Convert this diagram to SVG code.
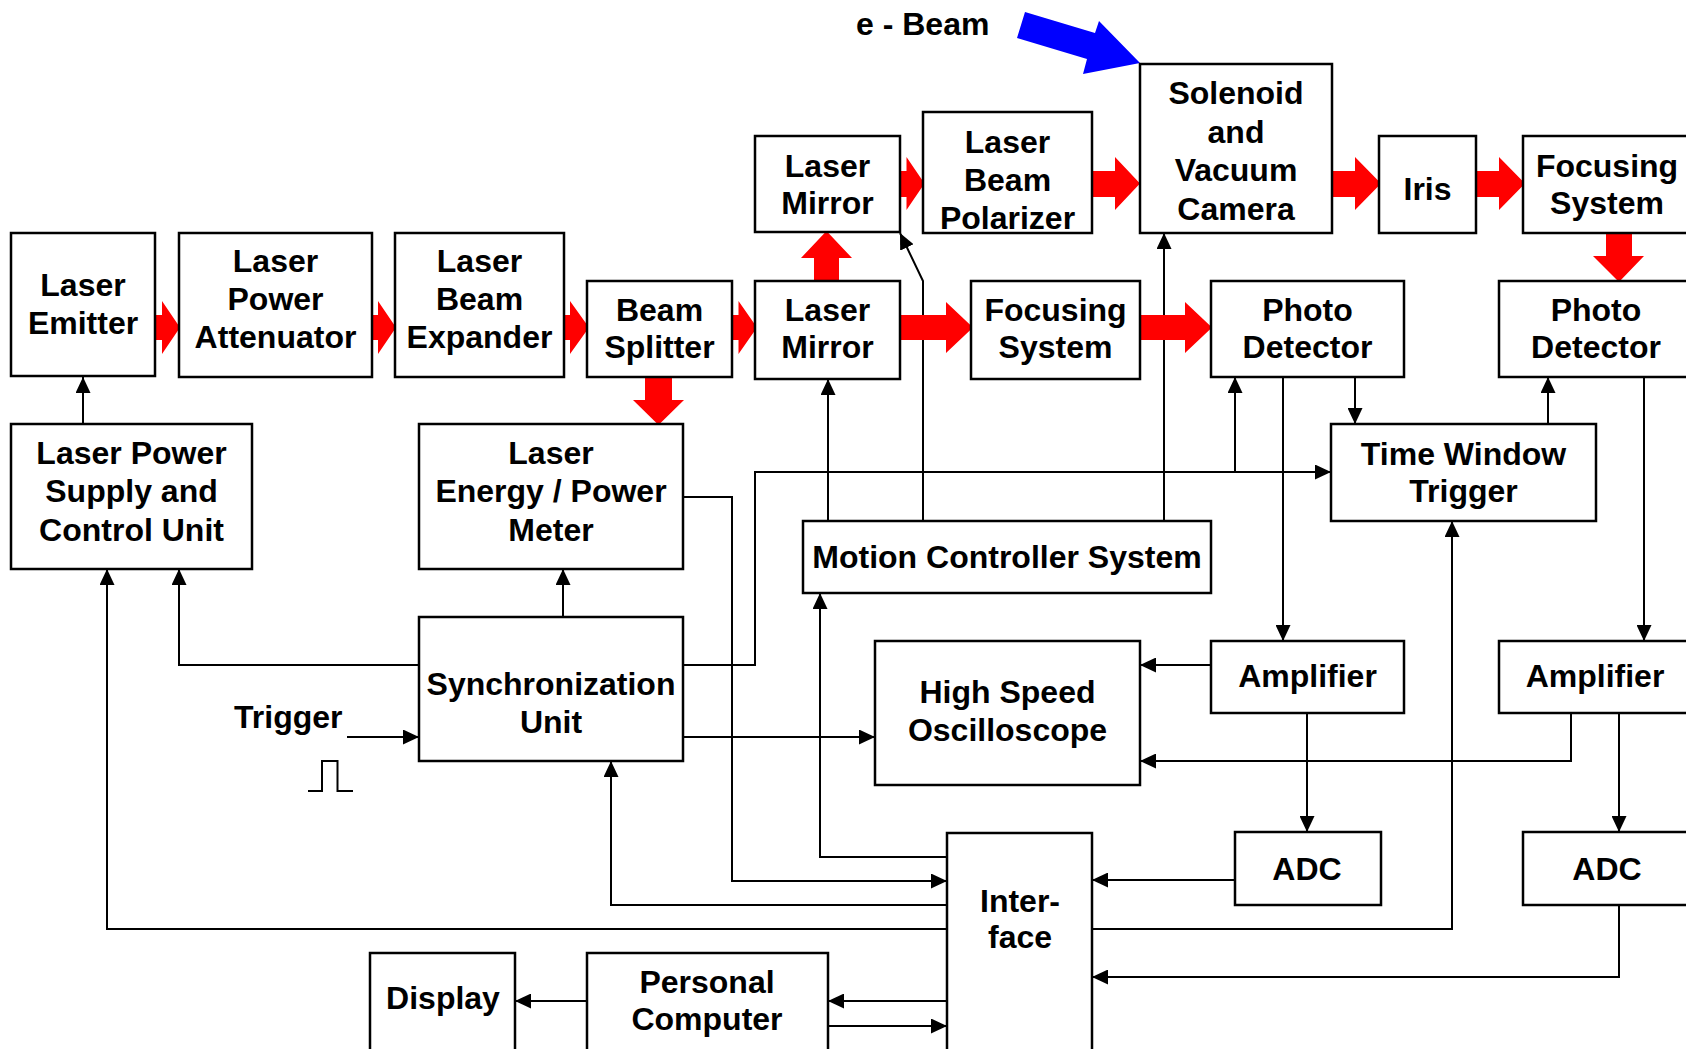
<svg xmlns="http://www.w3.org/2000/svg" width="1686" height="1049" viewBox="0 0 1686 1049">
<style>
.box{fill:#fff;stroke:#000;stroke-width:2.5}
.t{font-family:"Liberation Sans",Arial,sans-serif;font-weight:bold;font-size:32px;fill:#000;text-anchor:middle}
.c{fill:none;stroke:#000;stroke-width:2}
.a{marker-end:url(#ah)}
.r{fill:#ff0000}
</style>
<defs>
<marker id="ah" markerUnits="userSpaceOnUse" markerWidth="16" markerHeight="15" refX="16" refY="7.5" orient="auto">
<path d="M0,0 L16,7.5 L0,15 z" fill="#000"/>
</marker>
</defs>
<rect width="1686" height="1049" fill="#fff"/>

<g id="connectors">
<path class="c a" d="M83,424 L83,377"/>
<path class="c a" d="M419,665 L179,665 L179,569"/>
<path class="c a" d="M947,929 L107,929 L107,569"/>
<path class="c a" d="M563,617 L563,569"/>
<path class="c a" d="M347,737 L419,737"/>
<path class="c a" d="M683,497 L732,497 L732,881 L947,881"/>
<path class="c a" d="M683,665 L755,665 L755,472 L1331,472"/>
<path class="c a" d="M1235,472 L1235,377"/>
<path class="c a" d="M683,737 L875,737"/>
<path class="c a" d="M947,905 L611,905 L611,761"/>
<path class="c a" d="M947,857 L820,857 L820,593"/>
<path class="c a" d="M828,521 L828,379"/>
<path class="c a" d="M923,521 L923,281 L900,233"/>
<path class="c a" d="M1164,521 L1164,233"/>
<path class="c a" d="M1355,377 L1355,424"/>
<path class="c a" d="M1548,424 L1548,377"/>
<path class="c a" d="M1283,377 L1283,641"/>
<path class="c a" d="M1644,377 L1644,641"/>
<path class="c a" d="M1211,665 L1140,665"/>
<path class="c a" d="M1571,713 L1571,761 L1140,761"/>
<path class="c a" d="M1307,713 L1307,832"/>
<path class="c a" d="M1619,713 L1619,832"/>
<path class="c a" d="M1235,880 L1092,880"/>
<path class="c a" d="M1619,905 L1619,977 L1092,977"/>
<path class="c a" d="M1092,929 L1452,929 L1452,521"/>
<path class="c a" d="M587,1001 L515,1001"/>
<path class="c a" d="M947,1001 L828,1001"/>
<path class="c a" d="M828,1026 L947,1026"/>
<path class="c" d="M308,791 L322,791 L322,761 L337.5,761 L337.5,791 L353,791"/>
</g>

<g id="beam-arrows">
<polygon class="r" points="154,315 162,315 162,301 180,327.5 162,354 162,340 154,340"/>
<polygon class="r" points="371,315 378,315 378,301 396,327.5 378,354 378,340 371,340"/>
<polygon class="r" points="563,315 570,315 570,301 589,327.5 570,354 570,340 563,340"/>
<polygon class="r" points="731,315 738.5,315 738.5,301 757,327.5 738.5,354 738.5,340 731,340"/>
<polygon class="r" points="900,315 946,315 946,302 973,327.5 946,353 946,340 900,340"/>
<polygon class="r" points="1139,315 1185,315 1185,302 1212,327.5 1185,353 1185,340 1139,340"/>
<polygon class="r" points="899,171 906.5,171 906.5,157 924.5,183.5 906.5,210 906.5,197 899,197"/>
<polygon class="r" points="1091,171 1115,171 1115,157 1140,183.5 1115,210 1115,197 1091,197"/>
<polygon class="r" points="1331,171 1355,171 1355,157 1381,183.5 1355,210 1355,197 1331,197"/>
<polygon class="r" points="1475,171 1499,171 1499,157 1525,183.5 1499,210 1499,197 1475,197"/>
<polygon class="r" points="814,281 814,258 801,258 826.5,231 852,258 839,258 839,281"/>
<polygon class="r" points="1606,233 1606,256 1593,256 1619,282 1644,256 1632,256 1632,233"/>
<polygon class="r" points="645,376 645,400 633,400 658.5,425 684,400 672,400 672,376"/>
<polygon fill="#0000ff" points="1025,12 1095,33 1099,21 1140,63 1083,74 1087,59 1017,38"/>
<text class="t" x="856" y="35" style="text-anchor:start">e - Beam</text>
</g>

<g id="laser-emitter"><rect class="box" x="11" y="233" width="144" height="143"/><text class="t" x="83" y="296">Laser</text><text class="t" x="83" y="334">Emitter</text></g>
<g id="laser-power-attenuator"><rect class="box" x="179" y="233" width="193" height="144"/><text class="t" x="275.5" y="272">Laser</text><text class="t" x="275.5" y="310">Power</text><text class="t" x="275.5" y="348">Attenuator</text></g>
<g id="laser-beam-expander"><rect class="box" x="395" y="233" width="169" height="144"/><text class="t" x="479.5" y="272">Laser</text><text class="t" x="479.5" y="310">Beam</text><text class="t" x="479.5" y="348">Expander</text></g>
<g id="beam-splitter"><rect class="box" x="587" y="281" width="145" height="96"/><text class="t" x="659.5" y="321">Beam</text><text class="t" x="659.5" y="358">Splitter</text></g>
<g id="laser-mirror-lower"><rect class="box" x="755" y="281" width="145" height="98"/><text class="t" x="827.5" y="321">Laser</text><text class="t" x="827.5" y="358">Mirror</text></g>
<g id="laser-mirror-upper"><rect class="box" x="755" y="136" width="145" height="96"/><text class="t" x="827.5" y="177">Laser</text><text class="t" x="827.5" y="214">Mirror</text></g>
<g id="laser-beam-polarizer"><rect class="box" x="923" y="112" width="169" height="121"/><text class="t" x="1007.5" y="153">Laser</text><text class="t" x="1007.5" y="191">Beam</text><text class="t" x="1007.5" y="229">Polarizer</text></g>
<g id="solenoid-camera"><rect class="box" x="1140" y="64" width="192" height="169"/><text class="t" x="1236" y="104">Solenoid</text><text class="t" x="1236" y="142.5">and</text><text class="t" x="1236" y="181">Vacuum</text><text class="t" x="1236" y="219.5">Camera</text></g>
<g id="iris"><rect class="box" x="1379" y="136" width="97" height="97"/><text class="t" x="1427.5" y="200">Iris</text></g>
<g id="focusing-system-2"><rect class="box" x="1523" y="136" width="169" height="97"/><text class="t" x="1607" y="177">Focusing</text><text class="t" x="1607" y="214">System</text></g>
<g id="focusing-system-1"><rect class="box" x="971" y="281" width="169" height="98"/><text class="t" x="1055.5" y="321">Focusing</text><text class="t" x="1055.5" y="358">System</text></g>
<g id="photo-detector-1"><rect class="box" x="1211" y="281" width="193" height="96"/><text class="t" x="1307.5" y="321">Photo</text><text class="t" x="1307.5" y="358">Detector</text></g>
<g id="photo-detector-2"><rect class="box" x="1499" y="281" width="193" height="96"/><text class="t" x="1596" y="321">Photo</text><text class="t" x="1596" y="358">Detector</text></g>
<g id="laser-power-supply"><rect class="box" x="11" y="424" width="241" height="145"/><text class="t" x="131.5" y="464">Laser Power</text><text class="t" x="131.5" y="502">Supply and</text><text class="t" x="131.5" y="541">Control Unit</text></g>
<g id="energy-meter"><rect class="box" x="419" y="424" width="264" height="145"/><text class="t" x="551" y="464">Laser</text><text class="t" x="551" y="502">Energy / Power</text><text class="t" x="551" y="541">Meter</text></g>
<g id="time-window-trigger"><rect class="box" x="1331" y="424" width="265" height="97"/><text class="t" x="1463.5" y="465">Time Window</text><text class="t" x="1463.5" y="502">Trigger</text></g>
<g id="motion-controller"><rect class="box" x="803" y="521" width="408" height="72"/><text class="t" x="1007" y="568">Motion Controller System</text></g>
<g id="synchronization-unit"><rect class="box" x="419" y="617" width="264" height="144"/><text class="t" x="551" y="695">Synchronization</text><text class="t" x="551" y="733">Unit</text></g>
<g id="trigger"><text class="t" x="234" y="728" style="text-anchor:start">Trigger</text></g>
<g id="oscilloscope"><rect class="box" x="875" y="641" width="265" height="144"/><text class="t" x="1007.5" y="703">High Speed</text><text class="t" x="1007.5" y="741">Oscilloscope</text></g>
<g id="amplifier-1"><rect class="box" x="1211" y="641" width="193" height="72"/><text class="t" x="1307.5" y="687">Amplifier</text></g>
<g id="amplifier-2"><rect class="box" x="1499" y="641" width="193" height="72"/><text class="t" x="1595" y="687">Amplifier</text></g>
<g id="adc-1"><rect class="box" x="1235" y="832" width="146" height="73"/><text class="t" x="1307" y="880">ADC</text></g>
<g id="adc-2"><rect class="box" x="1523" y="832" width="169" height="73"/><text class="t" x="1607" y="880">ADC</text></g>
<g id="interface"><rect class="box" x="947" y="833" width="145" height="220"/><text class="t" x="1020" y="912">Inter-</text><text class="t" x="1020" y="948">face</text></g>
<g id="display"><rect class="box" x="370" y="953" width="145" height="100"/><text class="t" x="443" y="1009">Display</text></g>
<g id="personal-computer"><rect class="box" x="587" y="953" width="241" height="100"/><text class="t" x="707" y="993">Personal</text><text class="t" x="707" y="1030">Computer</text></g>
</svg>
